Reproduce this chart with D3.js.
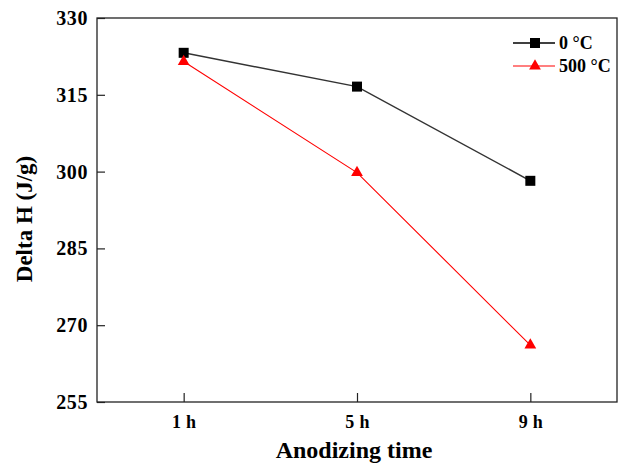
<!DOCTYPE html>
<html><head><meta charset="utf-8">
<script src="https://cdn.jsdelivr.net/npm/d3@7"></script>
<style>
html,body{margin:0;padding:0;background:#fff;}
svg text{font-family:"Liberation Serif","Times New Roman",serif;font-weight:bold;fill:#000;}
</style></head>
<body><svg id="c" width="623" height="469"></svg>
<script>
const categories = ["1 h", "5 h", "9 h"];
const series0 = [323.2, 316.6, 298.2];
const series500 = [321.5, 299.8, 266.1];
const seriesNames = ["0 \u00B0C", "500 \u00B0C"];
const yTicks = [255, 270, 285, 300, 315, 330];

const svg = d3.select("#c");
const L = 97, R = 617, T = 18, B = 402;
const x = d3.scalePoint().domain(categories).range([L, R]).padding(0.5);
const y = d3.scaleLinear().domain([255, 330]).range([B, T]);

// frame
svg.append("rect").attr("x", L).attr("y", T).attr("width", R - L).attr("height", B - T)
  .attr("fill", "none").attr("stroke", "#222").attr("stroke-width", 1.3);

// y axis
const ya = svg.append("g").attr("transform", `translate(${L},0)`)
  .call(d3.axisLeft(y).tickValues(yTicks).tickSizeInner(-8).tickSizeOuter(0).tickPadding(9));
ya.select(".domain").remove();
ya.selectAll(".tick line").attr("stroke", "#222").attr("stroke-width", 1.2);
ya.selectAll(".tick text").attr("font-size", 20).attr("letter-spacing", 0.6)
  .attr("font-family", "Liberation Serif").attr("font-weight", "bold").attr("fill", "#000");

// x axis
const xa = svg.append("g").attr("transform", `translate(0,${B})`)
  .call(d3.axisBottom(x).tickSizeInner(-9).tickSizeOuter(0).tickPadding(13));
xa.select(".domain").remove();
xa.selectAll(".tick line").attr("stroke", "#222").attr("stroke-width", 1.2);
xa.selectAll(".tick text").attr("font-size", 18).attr("letter-spacing", 0.3)
  .attr("font-family", "Liberation Serif").attr("font-weight", "bold").attr("fill", "#000");

// axis titles
svg.append("text").attr("x", 354).attr("y", 458).attr("text-anchor", "middle")
  .attr("font-size", 24).text("Anodizing time");
svg.append("text").attr("transform", "translate(32,219) rotate(-90)").attr("text-anchor", "middle")
  .attr("font-size", 23).text("Delta H (J/g)");

const line = d3.line().x((d, i) => x(categories[i])).y(d => y(d));

// series 0 °C
svg.append("path").datum(series0).attr("d", line).attr("fill", "none")
  .attr("stroke", "#333").attr("stroke-width", 1.5);
svg.selectAll(".sq").data(series0).enter().append("rect")
  .attr("x", (d, i) => x(categories[i]) - 5).attr("y", d => y(d) - 5)
  .attr("width", 10).attr("height", 10).attr("fill", "#000");

// series 500 °C
svg.append("path").datum(series500).attr("d", line).attr("fill", "none")
  .attr("stroke", "#ff0000").attr("stroke-width", 1.1);
const tri = d3.symbol().type(d3.symbolTriangle).size(60);
svg.selectAll(".tr").data(series500).enter().append("path")
  .attr("d", tri).attr("transform", (d, i) => `translate(${x(categories[i])},${y(d)})`)
  .attr("fill", "#ff0000");

// legend
const lg = svg.append("g");
const legY = [43, 66];
lg.append("line").attr("x1", 513).attr("x2", 555).attr("y1", legY[0]).attr("y2", legY[0]).attr("stroke", "#000").attr("stroke-width", 1.3);
lg.append("rect").attr("x", 530).attr("y", legY[0] - 5).attr("width", 10).attr("height", 10).attr("fill", "#000");
lg.append("line").attr("x1", 513).attr("x2", 555).attr("y1", legY[1]).attr("y2", legY[1]).attr("stroke", "#ff0000").attr("stroke-width", 1.1);
lg.append("path").attr("d", tri).attr("transform", `translate(535,${legY[1]})`).attr("fill", "#ff0000");
seriesNames.forEach((n, i) => {
  lg.append("text").attr("x", 559).attr("y", legY[i]).attr("dy", "0.35em").attr("font-size", 18).text(n);
});
</script></body></html>
